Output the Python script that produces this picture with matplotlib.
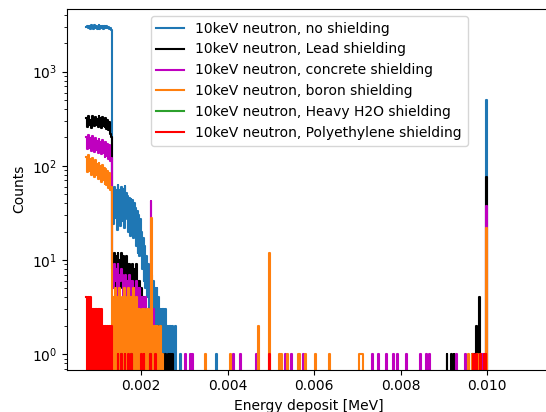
import numpy as np
import matplotlib
matplotlib.use("Agg")
import matplotlib.pyplot as plt

# ---- histogram binning (MeV) ----
bin_lo = 0.00074
bin_w = 0.00002
n_bins = 464

labels = [
    "10keV neutron, no shielding",
    "10keV neutron, Lead shielding",
    "10keV neutron, concrete shielding",
    "10keV neutron, boron shielding",
    "10keV neutron, Heavy H2O shielding",
    "10keV neutron, Polyethylene shielding",
]
colors = ["#1f77b4", "black", "m", "#ff7f0e", "#2ca02c", "red"]

# ---- counts per bin (dense low-energy part, starting at bin 0) ----
blue_dense = [2950, 3080, 2880, 3050, 2820, 3120, 2920, 3040, 2850, 3100,
              2930, 3060, 2830, 2940, 3090, 2860, 3030, 2910, 3070, 2840,
              3050, 2940, 2870, 3080, 2920, 2980, 2850, 2900, 2750, 2600,
              50, 24, 60, 28, 56, 21, 62, 30, 55, 23, 59, 26, 57, 22, 61, 27, 52,
              48, 20, 46, 18, 44, 21, 43, 17, 40,
              36, 14, 33, 12, 30, 11, 27,
              20, 8, 17, 6, 14, 5,
              11, 4, 9, 3, 8, 3, 7, 2,
              6, 2, 5, 2, 5, 1, 4, 2,
              3, 1, 3, 1, 3, 1, 3, 1,
              2, 1, 2, 0, 2, 1, 2, 0, 1, 2]
blue_hit_bins = [108, 150, 462]
blue_hit_counts = [1, 1, 500]

black_dense = [320, 260, 335, 270, 310, 255, 340, 275, 325, 262,
               330, 268, 315, 258, 338, 272, 320, 250, 328, 265,
               312, 256, 325, 248, 305, 240, 290, 220, 200, 165,
               10, 6, 12, 5, 11, 7, 12, 6, 10, 5, 12, 7, 11, 6, 10, 5, 11, 6, 9,
               9, 5, 8, 4, 9, 5, 8, 4, 9, 4,
               6, 3, 6, 2, 5, 3, 4, 2,
               3, 1, 3, 1, 3, 2, 1]
black_hit_bins = [82, 84, 88, 91, 94, 97, 99, 416, 421, 424, 445, 448, 450, 453, 462]
black_hit_counts = [2, 1, 1, 1, 1, 1, 1, 1, 1, 1, 1, 1, 2, 4, 76]

magenta_dense = [200, 150, 210, 155, 195, 145, 205, 152, 190, 140,
                 198, 148, 185, 138, 192, 142, 180, 132, 186, 136,
                 175, 125, 178, 128, 170, 118, 165, 112, 120, 95,
                 8, 5, 9, 6, 8, 4, 9, 5, 7, 6, 8,
                 7, 4, 6, 5, 7, 3, 6, 4, 7, 5, 6, 3, 6, 4, 5, 3, 6, 4, 5, 3, 5,
                 4, 2, 4, 3, 3, 2, 4, 2, 3,
                 2, 3, 1, 42, 2, 1, 3, 1, 2]
magenta_hit_bins = [114, 120, 122, 169, 177, 196, 229, 236, 250, 330, 337, 346,
                    354, 359, 369, 385, 392, 396, 427, 437, 456, 458, 462]
magenta_hit_counts = [1] * 22 + [37]

orange_dense = [125, 85, 130, 88, 118, 80, 122, 84, 112, 76,
                115, 79, 105, 72, 108, 74, 100, 68, 102, 70,
                95, 64, 92, 62, 88, 58, 84, 55, 60, 50,
                0, 4, 0, 5, 3, 0, 4, 0, 5, 0, 3, 4, 0, 5, 0, 4, 0, 3, 5, 0,
                4, 0, 4, 0, 5, 0, 3, 4,
                0, 3, 0, 3, 2, 0, 3, 0, 3, 0, 2, 3, 0, 3, 0, 2,
                0, 28, 0, 2,
                0, 2, 1, 0, 2, 0, 1, 2, 0, 1, 0]
orange_hit_bins = [137, 166, 198, 211, 222, 225, 232, 244, 246, 253, 264, 280,
                   315, 316, 317, 318, 441, 445, 451, 455, 462]
orange_hit_counts = [1, 1, 2, 12, 1, 1, 1, 1, 1, 1, 1, 1,
                     1, 1, 1, 1, 1, 1, 1, 1, 22]

green_dense = []
green_hit_bins = [40, 52, 73]
green_hit_counts = [1, 1, 1]

red_dense = [4, 0, 4, 0, 4,
             0, 3, 0, 3, 0, 3, 3, 0, 3, 0, 3, 0, 3,
             0, 2, 0, 2, 2, 0, 2, 0, 2, 0, 2]
red_hit_bins = [36, 40, 44, 48, 52, 63, 66, 73, 79, 211, 447, 450, 455, 459, 461]
red_hit_counts = [1] * 15

series = [
    (blue_dense, blue_hit_bins, blue_hit_counts),
    (black_dense, black_hit_bins, black_hit_counts),
    (magenta_dense, magenta_hit_bins, magenta_hit_counts),
    (orange_dense, orange_hit_bins, orange_hit_counts),
    (green_dense, green_hit_bins, green_hit_counts),
    (red_dense, red_hit_bins, red_hit_counts),
]

edges = bin_lo + bin_w * np.arange(n_bins + 1)


def build(dense, hb, hc):
    c = np.zeros(n_bins)
    c[:len(dense)] = dense
    for b, v in zip(hb, hc):
        c[b] = v
    return c


W, H = 546, 412
fig = plt.figure(figsize=(W / 100, H / 100), dpi=100)
ax_left, ax_right = 66.7, 551.7
ax = fig.add_axes([ax_left / W, 42.5 / H, (ax_right - ax_left) / W, 360.5 / H])
ax.set_yscale("log")
ax.spines["right"].set_visible(False)

for (d, hb, hc), lab, col in zip(series, labels, colors):
    counts = build(d, hb, hc)
    ax.step(edges, np.append(counts, counts[-1]), where="post",
            color=col, label=lab, lw=1.5)

ax.set_xlim(0.000284, (ax_right - 54.4) / 43290)
ax.set_ylim(0.688, 4620)
ax.set_xticks([0.002, 0.004, 0.006, 0.008, 0.010])
ax.set_xlabel("Energy deposit [MeV]")
ax.set_ylabel("Counts")
ax.legend(loc="upper center")

fig.savefig("out.png", dpi=100)
